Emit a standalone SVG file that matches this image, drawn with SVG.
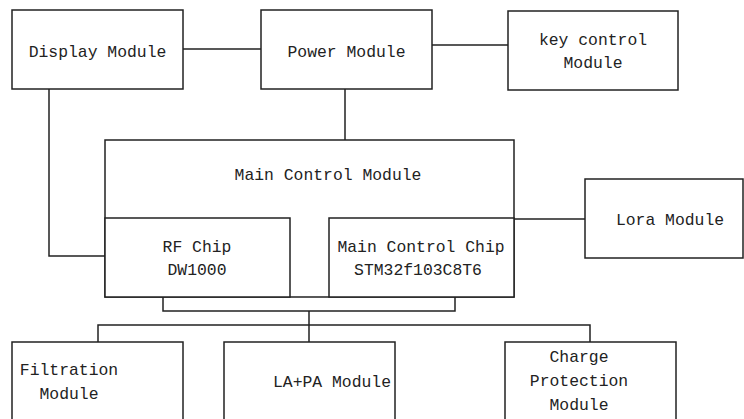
<svg xmlns="http://www.w3.org/2000/svg" width="744" height="419" viewBox="0 0 744 419">
<style>
.b{fill:#fff;stroke:#222;stroke-width:1.5}
.c{fill:none;stroke:#222;stroke-width:1.5}
text{font-family:"Liberation Mono","DejaVu Sans Mono",monospace;font-size:16.4px;fill:#222;text-anchor:middle}
</style>
<rect width="744" height="419" fill="#fff"/>
<g id="connectors">
<path class="c" d="M183,49H261M432,45H508M345,89V140M49,89V256H105M514,219H585M163,297V311H455V297M309,311V325M98,342V325H590V342M309,325V342"/>
</g>
<g id="display"><rect class="b" x="12" y="10" width="171" height="79"/><text x="97.5" y="57">Display Module</text></g>
<g id="power"><rect class="b" x="261" y="10" width="171" height="79"/><text x="346.5" y="57">Power Module</text></g>
<g id="key"><rect class="b" x="508" y="11" width="170" height="79"/><text x="593" y="45">key control</text><text x="593" y="68">Module</text></g>
<g id="main"><rect class="b" x="105" y="140" width="409" height="157"/><text x="328" y="180">Main Control Module</text></g>
<g id="rf"><rect class="b" x="105" y="218" width="185" height="79"/><text x="197" y="252">RF Chip</text><text x="197" y="275">DW1000</text></g>
<g id="mcu"><rect class="b" x="329" y="218" width="185" height="79"/><text x="421" y="252">Main Control Chip</text><text x="418" y="275">STM32f103C8T6</text></g>
<g id="lora"><rect class="b" x="585" y="179" width="158" height="79"/><text x="670" y="225">Lora Module</text></g>
<g id="filter"><rect class="b" x="12" y="342" width="171" height="90"/><text x="69" y="375">Filtration</text><text x="69" y="399">Module</text></g>
<g id="lapa"><rect class="b" x="224" y="342" width="171" height="90"/><text x="332" y="387">LA+PA Module</text></g>
<g id="charge"><rect class="b" x="505" y="342" width="171" height="90"/><text x="579" y="362">Charge</text><text x="579" y="386">Protection</text><text x="579" y="410">Module</text></g>
</svg>
